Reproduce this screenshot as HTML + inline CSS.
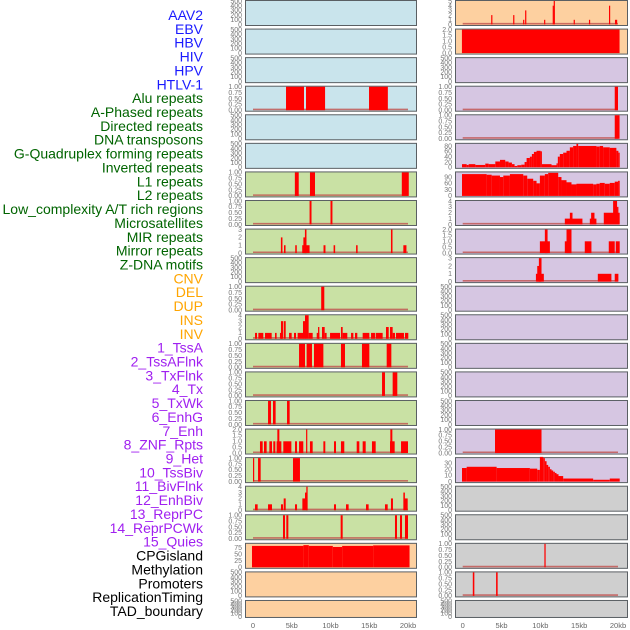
<!DOCTYPE html>
<html><head><meta charset="utf-8">
<style>
html,body{margin:0;padding:0;background:#fff;}
svg{display:block;font-family:"Liberation Sans",sans-serif;}
</style></head>
<body>
<svg id="chart" width="630" height="630" viewBox="0 0 630 630" xmlns="http://www.w3.org/2000/svg">
<g id="labels"></g>
<g id="panels"></g>
<g id="xaxes"></g>
</svg>
<script>
// ---------- data ----------
const trackLabels = ["AAV2","EBV","HBV","HIV","HPV","HTLV-1","Alu repeats","A-Phased repeats","Directed repeats","DNA transposons","G-Quadruplex forming repeats","Inverted repeats","L1 repeats","L2 repeats","Low_complexity A/T rich regions","Microsatellites","MIR repeats","Mirror repeats","Z-DNA motifs","CNV","DEL","DUP","INS","INV","1_TssA","2_TssAFlnk","3_TxFlnk","4_Tx","5_TxWk","6_EnhG","7_Enh","8_ZNF_Rpts","9_Het","10_TssBiv","11_BivFlnk","12_EnhBiv","13_ReprPC","14_ReprPCWk","15_Quies","CPGisland","Methylation","Promoters","ReplicationTiming","TAD_boundary"];
const labelGroups = ["virus","virus","virus","virus","virus","virus","rep","rep","rep","rep","rep","rep","rep","rep","rep","rep","rep","rep","rep","sv","sv","sv","sv","sv","hmm","hmm","hmm","hmm","hmm","hmm","hmm","hmm","hmm","hmm","hmm","hmm","hmm","hmm","hmm","oth","oth","oth","oth","oth"];
const xTickValues = [0,5,10,15,20];
const xTickLabels = ["0","5kb","10kb","15kb","20kb"];

// segments: [startKb, endKb, value]
const leftRow3 = [[4.26,6.58,1],[6.84,9.3,1],[14.97,17.4,1]];
const leftRow6 = [[5.4,5.9,1],[7.35,8.0,1],[19.2,20.1,1]];
const leftRow7 = [[7.3,7.55,1],[10.0,10.25,1]];
const leftRow8 = [[3.6,3.8,2],[4.0,4.2,1],[5.45,5.65,1],[6.35,7.3,1],[6.5,6.9,2],[6.7,6.9,3],[9.1,9.35,1],[10.4,10.6,1],[13.3,13.5,1],[17.8,18.0,3],[19.4,19.8,1]];
const leftRow10 = [[8.8,9.2,1]];
const leftRow11 = [[0.26,0.52,1],[0.69,1.33,1],[1.55,2.41,1],[2.84,3.05,1],[3.48,3.74,1],[3.61,3.87,3],[3.96,4.22,3],[4.65,4.99,1],[5.29,5.55,1],[5.76,6.49,1],[6.45,6.75,3],[6.71,7.18,4],[7.18,7.7,1],[8.22,8.56,1],[8.39,8.56,2],[8.9,9.25,2],[9.25,9.5,1],[9.94,11.23,1],[11.35,11.57,2],[11.57,12.17,1],[12.65,12.95,1],[13.16,13.46,1],[14.15,15.01,1],[15.23,15.74,1],[15.83,16.73,1],[17.16,17.51,2],[17.68,18.02,2],[18.02,18.32,1],[18.45,19.48,1],[19.61,20.04,1]];
const leftRow12 = [[5.94,6.71,1],[6.92,7.61,1],[7.87,9.08,1],[11.35,11.87,1],[14.06,15.01,1],[17.25,17.85,1]];
const leftRow13 = [[16.65,17.03,1],[18.02,18.62,1]];
const leftRow14 = [[1.94,2.32,1],[2.58,2.92,1],[4.39,4.73,1]];
const leftRow15 = [[0.9,1.25,1],[1.42,1.76,1],[2.11,2.45,1],[2.62,2.88,1],[3.05,3.66,1],[3.14,3.4,2],[3.91,4.95,1],[5.42,5.68,1],[5.94,6.49,1],[6.85,7.0,2],[7.35,7.7,1],[9.08,9.33,1],[10.45,10.71,1],[11.35,11.78,1],[13.38,13.72,1],[14.15,14.54,1],[15.35,15.83,1],[17.68,18.28,1],[17.72,17.98,2],[19.1,20.0,1]];
const leftRow16 = [[0.0,0.15,1],[0.65,0.99,1],[5.16,6.06,1]];
const leftRow17 = [[0.26,0.6,1],[1.94,2.45,1],[3.61,3.87,1],[3.96,4.22,2],[5.42,5.68,1],[6.37,6.71,2],[6.71,7.01,3],[6.88,7.05,4],[10.45,10.71,1],[12.0,12.34,1],[14.58,14.92,1],[17.03,17.38,1],[17.8,18.06,2],[19.4,19.6,3],[19.53,19.96,2]];
const leftRow18 = [[3.87,4.13,1],[4.3,4.56,1],[11.31,11.57,1],[18.32,18.58,1],[18.97,19.23,1],[19.61,20.0,1]];
const leftRow19 = [[-0.13,6.5,82],[6.5,7.2,85],[7.2,10.3,82],[10.3,11.5,78],[11.5,15.5,82],[15.5,20.2,84]];

const rightRow0 = [[3.67,3.8,2],[6.5,6.63,2],[7.78,7.9,1],[8.04,8.17,3],[10.48,10.6,1],[11.59,11.72,4],[11.72,11.85,5],[14.29,14.42,1],[16.26,16.39,1],[18.84,18.97,4],[19.61,19.74,1],[19.74,19.87,1]];
const rightRow1 = [[-0.1,20.2,2]];
const rightRow3 = [[19.58,20.0,1]];
const rightRow4 = [[19.58,20.2,1]];
const rightRow5 = [[-0.09,0.51,12],[0.51,0.77,9],[0.77,1.63,12],[1.63,2.91,9],[2.91,3.34,14],[3.34,4.2,12],[4.2,4.8,22],[4.8,5.48,28],[5.48,5.91,22],[5.91,6.34,18],[6.34,6.68,12],[6.68,7.03,5],[7.03,7.54,8],[7.54,7.97,10],[7.97,8.23,20],[8.23,8.65,35],[8.65,8.91,40],[8.91,9.17,50],[9.17,9.51,58],[9.51,10.03,62],[10.03,10.2,60],[10.2,11.44,12],[11.44,12.08,8],[12.08,12.25,15],[12.25,12.51,40],[12.51,12.94,50],[12.94,13.37,55],[13.37,13.8,62],[13.8,14.22,75],[14.22,14.65,80],[14.65,14.87,88],[14.87,17.22,80],[17.22,17.65,78],[17.65,18.08,80],[18.08,18.94,75],[18.94,19.79,73],[19.79,20.05,62],[20.05,20.22,55]];
const rightRow6 = [[-0.09,3.08,104],[3.08,3.73,101],[3.73,4.8,97],[4.8,5.23,90],[5.23,6.08,97],[6.08,7.8,104],[7.8,8.31,97],[8.31,9.08,82],[9.08,9.51,72],[9.51,9.94,60],[9.94,10.58,97],[10.58,11.01,104],[11.01,12.3,110],[12.3,12.72,90],[12.72,13.37,75],[13.37,14.01,65],[14.01,14.65,55],[14.65,16.8,58],[16.8,17.22,55],[17.22,17.65,58],[17.65,18.29,62],[18.29,18.94,58],[18.94,19.58,62],[19.58,20.01,68],[20.01,20.22,72]];
const rightRow7 = [[13.15,15.42,1],[13.8,14.14,2],[16.37,17.22,1],[16.54,16.97,2],[18.17,20.22,2],[19.37,19.88,4],[19.88,20.05,3]];
const rightRow8 = [[9.94,11.23,1],[10.58,10.93,2],[13.15,14.01,1],[13.37,14.01,2],[15.72,16.58,1],[18.81,19.58,1],[19.71,20.22,1]];
const rightRow9 = [[9.43,10.45,1],[9.6,10.03,2],[9.81,10.15,3],[17.4,19.15,1],[19.58,20.05,1]];
const rightRow15 = [[4.16,10.15,1]];
const rightRow16 = [[-0.09,0.51,22],[0.51,4.37,24],[4.37,8.65,22],[8.65,9.6,21],[9.6,9.94,19],[9.94,10.37,40],[10.37,10.58,38],[10.58,10.8,33],[10.8,11.01,27],[11.01,11.23,24],[11.23,11.44,20],[11.44,11.65,18],[11.65,11.87,16],[11.87,12.08,14],[12.08,12.34,12],[12.34,12.94,9],[12.94,16.8,5],[16.8,18.94,3],[18.94,20.22,5]];
const rightRow19 = [[10.52,10.68,1]];
const rightRow20 = [[1.3,1.5,1],[4.3,4.5,1]];

// y tick sets
const ticksEmpty = [0,100,200,300,400,500];
const ticksUnit = [0,0.25,0.5,0.75,1.0];
const ticksHalf = [0,0.5,1.0,1.5,2.0];

// column, row, bg, segments, ymax, ticks, tick label digits
const panels = [
 ["L",0,"blue",null],["L",1,"blue",null],["L",2,"blue",null],
 ["L",3,"blue",leftRow3,1,ticksUnit,2],["L",4,"blue",null],["L",5,"blue",null],
 ["L",6,"green",leftRow6,1,ticksUnit,2],["L",7,"green",leftRow7,1,ticksUnit,2],
 ["L",8,"green",leftRow8,3,[0,1,2,3],0],["L",9,"green",null],
 ["L",10,"green",leftRow10,1,ticksUnit,2],["L",11,"green",leftRow11,4,[0,1,2,3,4],0],
 ["L",12,"green",leftRow12,1,ticksUnit,2],["L",13,"green",leftRow13,1,ticksUnit,2],
 ["L",14,"green",leftRow14,1,ticksUnit,2],["L",15,"green",leftRow15,2,ticksHalf,1],
 ["L",16,"green",leftRow16,1,ticksUnit,2],["L",17,"green",leftRow17,4,[0,1,2,3,4],0],
 ["L",18,"green",leftRow18,1,ticksUnit,2],["L",19,"orange",leftRow19,90,[0,25,50,75],0,true],
 ["L",20,"orange",null],["L",21,"orange",null],
 ["R",0,"orange",rightRow0,5,[0,1,2,3,4,5],0],["R",1,"orange",rightRow1,2,ticksHalf,1,true],
 ["R",2,"purple",null],["R",3,"purple",rightRow3,1,ticksUnit,2],["R",4,"purple",rightRow4,1,ticksUnit,2],
 ["R",5,"purple",rightRow5,88,[0,20,40,60,80],0,true],["R",6,"purple",rightRow6,112,[0,30,60,90],0,true],
 ["R",7,"purple",rightRow7,4,[0,1,2,3,4],0],["R",8,"purple",rightRow8,2,ticksHalf,1],
 ["R",9,"purple",rightRow9,3,[0,1,2,3],0],["R",10,"purple",null],["R",11,"purple",null],
 ["R",12,"purple",null],["R",13,"purple",null],["R",14,"purple",null],
 ["R",15,"purple",rightRow15,1,ticksUnit,2],["R",16,"purple",rightRow16,38,[0,10,20,30],0,true],
 ["R",17,"gray",null],["R",18,"gray",null],["R",19,"gray",rightRow19,1,ticksUnit,2],
 ["R",20,"gray",rightRow20,1,ticksUnit,2],["R",21,"gray",null]
];

// ---------- rendering ----------
const NS = "http://www.w3.org/2000/svg";
const bgColors = {blue:"#c9e4ec",green:"#c9e1a4",orange:"#fdd0a0",purple:"#d6c6e2",gray:"#cfcfcf"};
const labelColors = {virus:"#1a1aff",rep:"#006400",sv:"#ffa500",hmm:"#a020f0",oth:"#000000"};
const cols = {L:{x0:245,x1:416,k0:253,k1:408},R:{x0:455,x1:627,k0:462.7,k1:618}};
function rowTop(r){return r*28.57;}
function rowH(r){return r===21?17:25;}
function xScale(c,kb){return cols[c].k0 + (cols[c].k1-cols[c].k0)*kb/20;}
function mk(tag,attrs,parent){const e=document.createElementNS(NS,tag);for(const k in attrs)e.setAttribute(k,attrs[k]);parent.appendChild(e);return e;}

const gl = document.getElementById("labels");
trackLabels.forEach((t,i)=>{
  const el = mk("text",{x:203,y:20+i*13.86,"text-anchor":"end","font-size":"14",fill:labelColors[labelGroups[i]]},gl);
  
  
  el.textContent = t;
});

const gp = document.getElementById("panels");
panels.forEach(p=>{
  const [c,r,bg,segs,ymax,ticks,dig,noBase] = p;
  const top=rowTop(r), h=rowH(r), x0=cols[c].x0, x1=cols[c].x1;
  const g = mk("g",{},gp);
  
  
  const rect = mk("rect",{x:x0+0.5,y:top+0.5,width:x1-x0,height:h,fill:bgColors[bg],stroke:"#5a5f63","stroke-width":1},g);
  
  
  const y0 = top+h-0.5, yT = top+1;
  let tk = ticks || ticksEmpty;
  let ym = segs ? ymax : 500;
  function yScale(v){return y0-(y0-yT)*v/ym;}
  tk.forEach(v=>{
    const t = mk("text",{x:x0-3,y:yScale(v)+2.3,"text-anchor":"end","font-size":"7",fill:"#777"},g);
    
    
    t.textContent = segs ? v.toFixed(dig) : String(v);
  });
  if(segs){
    if(!noBase){
      const bl = mk("line",{x1:xScale(c,0),x2:xScale(c,20),y1:y0-0.8,y2:y0-0.8,stroke:"#c0504d","stroke-width":1.6,"stroke-opacity":0.8},g);
      
      
    }
    segs.forEach(s=>{
      const xa=xScale(c,s[0]), xb=xScale(c,s[1]);
      const w=Math.max(1.2,xb-xa);
      const yv=yScale(s[2]);
      const b = mk("rect",{x:xa,y:yv,width:w,height:y0-yv,fill:"#ff0000"},g);
      
      
    });
  }
});

const gx = document.getElementById("xaxes");
["L","R"].forEach(c=>{
  xTickValues.forEach((v,i)=>{
    const t = mk("text",{x:xScale(c,v),y:628,"text-anchor":"middle","font-size":"7.5",fill:"#666"},gx);
    
    
    t.textContent = xTickLabels[i];
  });
});
</script>
</body></html>
